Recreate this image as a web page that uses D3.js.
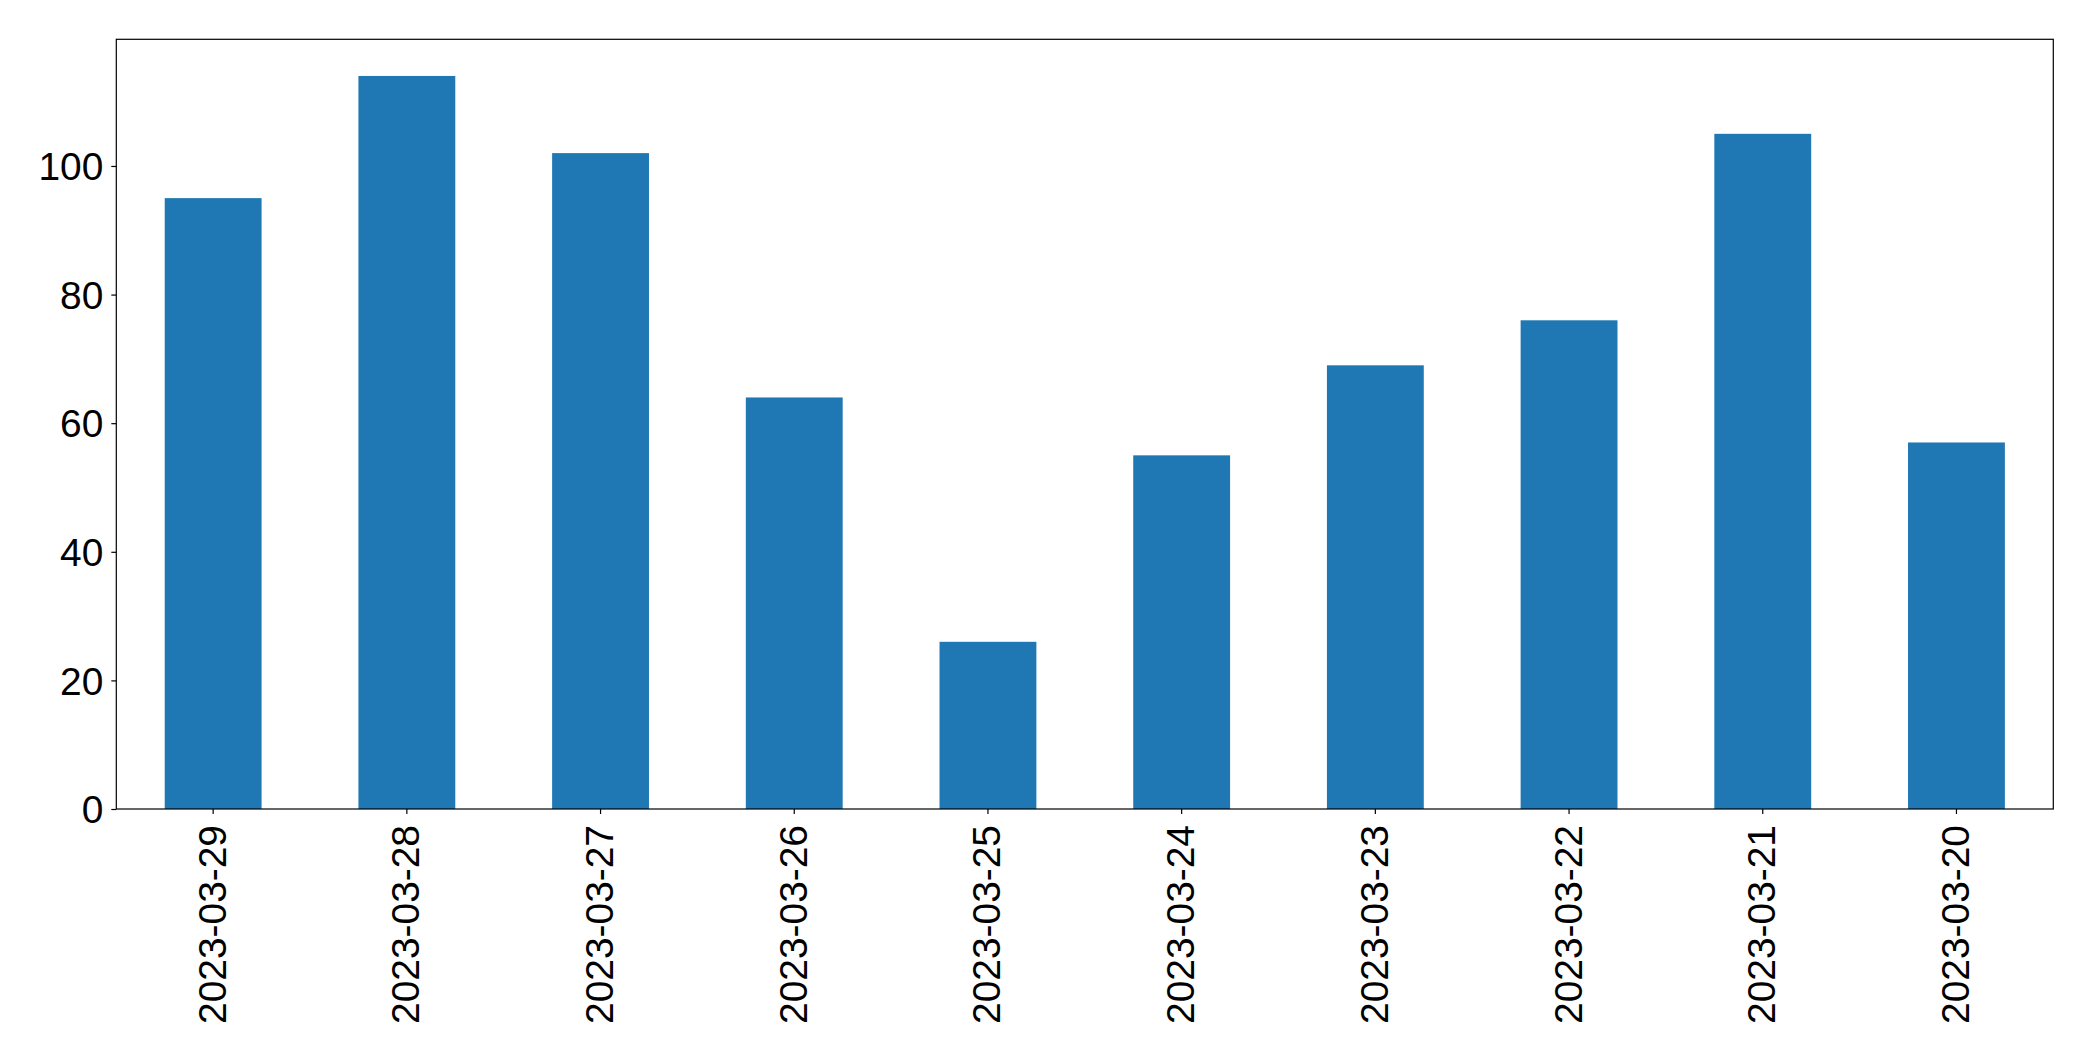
<!DOCTYPE html>
<html>
<head>
<meta charset="utf-8">
<script src="https://cdn.jsdelivr.net/npm/d3@7"></script>
<style>
  body { margin: 0; background: white; }
  svg { display: block; }
  text { font-family: "Liberation Sans", Arial, sans-serif; fill: black; }
</style>
</head>
<body>
<svg id="chart"></svg>
<script>
const categories = ['2023-03-29', '2023-03-28', '2023-03-27', '2023-03-26', '2023-03-25',
                    '2023-03-24', '2023-03-23', '2023-03-22', '2023-03-21', '2023-03-20']
const values = [95, 114, 102, 64, 26, 55, 69, 76, 105, 57]
const yTicks = [0, 20, 40, 60, 80, 100]

const width = 2093
const height = 1061
const margin = {top: 39.3, right: 39.7, bottom: 252, left: 116.3}
const fontSize = '38.9px'

const svg = d3.select('#chart')
    .attr('width', width)
    .attr('height', height)

const x = d3.scaleBand()
    .domain(categories)
    .range([margin.left, width - margin.right])
    .paddingInner(0.5)
    .paddingOuter(0.25)

const yMax = d3.max(values) * 1.05
const y = d3.scaleLinear()
    .domain([0, yMax])
    .range([height - margin.bottom, margin.top])

// bars
svg.append('g')
    .attr('fill', '#1f77b4')
  .selectAll('rect')
  .data(values)
  .join('rect')
    .attr('x', (d, i) => x(categories[i]))
    .attr('y', d => y(d))
    .attr('width', x.bandwidth())
    .attr('height', d => y(0) - y(d))

// x axis
const gx = svg.append('g')
    .attr('transform', `translate(0,${height - margin.bottom})`)
    .call(d3.axisBottom(x).tickSize(5).tickPadding(10).tickSizeOuter(0))
gx.select('.domain').remove()
gx.selectAll('line').attr('stroke', 'black').attr('stroke-width', 1.2)
gx.selectAll('text')
    .style('font-size', fontSize)
    .attr('transform', 'rotate(-90)')
    .attr('text-anchor', 'end')
    .attr('dominant-baseline', 'central')
    .attr('x', -16)
    .attr('y', -1)
    .attr('dy', null)

// y axis
const gy = svg.append('g')
    .attr('transform', `translate(${margin.left},0)`)
    .call(d3.axisLeft(y).tickValues(yTicks).tickSize(5).tickPadding(8).tickSizeOuter(0))
gy.select('.domain').remove()
gy.selectAll('line').attr('stroke', 'black').attr('stroke-width', 1.2)
gy.selectAll('text')
    .style('font-size', fontSize)
    .attr('dy', '0.35em')

// frame
svg.append('rect')
    .attr('x', margin.left)
    .attr('y', margin.top)
    .attr('width', width - margin.left - margin.right)
    .attr('height', height - margin.top - margin.bottom)
    .attr('fill', 'none')
    .attr('stroke', 'black')
    .attr('stroke-width', 1.2)
</script>
</body>
</html>
